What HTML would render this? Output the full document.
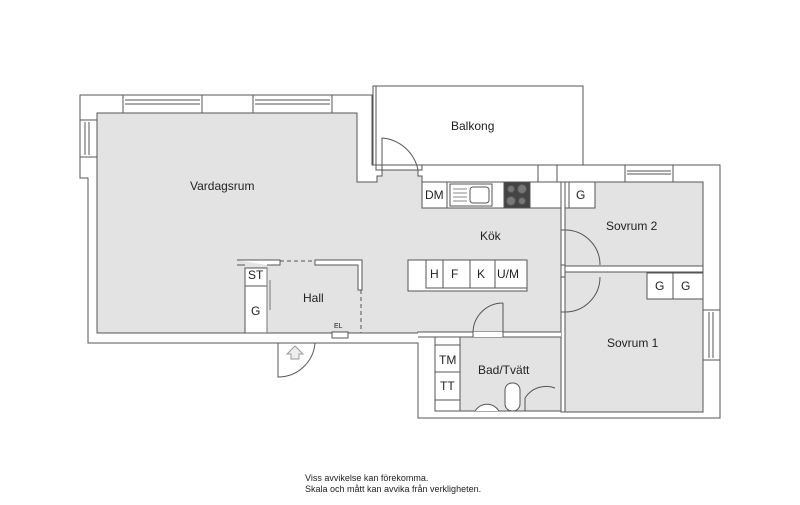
<!DOCTYPE html>
<html><head><meta charset="utf-8"><style>
html,body{margin:0;padding:0;background:#fff;}
svg{display:block;}
text{font-family:"Liberation Sans",sans-serif;fill:#222;}
</style></head><body>
<svg width="800" height="505" viewBox="0 0 800 505" xmlns="http://www.w3.org/2000/svg">
<g stroke="#555" stroke-width="1" fill="none">
<!-- outer outline -->
<path d="M80,95 H372 V165 H720 V418 H418 V343 H88 V178 H80 Z" fill="#fff"/>
<!-- balcony -->
<rect x="373" y="86" width="210" height="79" fill="#fff"/>
<path d="M376,86 V170 H382 M418,170 H422 V165"/>
<!-- rooms gray -->
<path d="M97,113 H357 V182 H377 V176 H382 V170 H418 V176 H422 V182 H561 V332 H418 V333 H97 Z" fill="#e3e3e3"/>
<rect x="565" y="182" width="138" height="84" fill="#e3e3e3"/>
<rect x="565" y="272" width="138" height="140" fill="#e3e3e3"/>
<rect x="460" y="337" width="101" height="74" fill="#e3e3e3"/>
<rect x="435" y="337" width="25" height="74" fill="#fff"/>
<!-- wall between kitchen and bedrooms -->
<rect x="561" y="182" width="4" height="48" fill="#fff"/>
<rect x="561" y="265" width="4" height="12" fill="#fff"/>
<rect x="565" y="266" width="138" height="6" fill="#fff"/>
<rect x="561" y="312" width="4" height="100" fill="#fff"/>
<path d="M565,230 A35,35 0 0 1 600,265 M600,277 A35,35 0 0 1 565,312"/>
<!-- kitchen bottom wall / bad door -->
<rect x="418" y="332" width="143" height="5" fill="#fff" stroke="none"/>
<path d="M418,332 H473 M503,332 H561 M418,337 H473 M503,337 H561 M473,332 V337 M503,303 V337"/>
<path d="M503,303 A30,30 0 0 0 473,333"/>
<!-- counter -->
<rect x="422" y="182" width="139" height="26" fill="#fff"/>
<line x1="447" y1="182" x2="447" y2="208"/>
<rect x="450" y="184" width="42" height="22" fill="#fff"/>
<rect x="470" y="187" width="19" height="16" rx="3"/>
<path d="M453,189 H467 M453,193 H467 M453,197 H467 M453,201 H467" stroke="#888"/>
<rect x="504" y="182" width="26" height="26" fill="#444"/>
<circle cx="511" cy="189" r="3.5" fill="#777"/><circle cx="522" cy="189" r="4.5" fill="#777"/>
<circle cx="511" cy="201" r="4.5" fill="#777"/><circle cx="522" cy="201" r="3.5" fill="#777"/>
<!-- G in sovrum2 -->
<rect x="565" y="182" width="30" height="26" fill="#fff"/>
<line x1="569" y1="182" x2="569" y2="208"/>
<!-- GG sovrum1 -->
<rect x="647" y="273" width="56" height="26" fill="#fff"/>
<line x1="673" y1="273" x2="673" y2="299"/>
<!-- island -->
<rect x="408" y="260" width="119" height="31" fill="#fff"/>
<path d="M426,260 V288 H527 M443,260 V288 M470,260 V288 M495,260 V288"/>
<!-- TM/TT -->
<path d="M435,345 H460 M435,372 H460 M435,400 H460"/>
<!-- windows -->
<rect x="123" y="95" width="79" height="18" fill="#fff"/>
<path d="M125,100 H200 M125,104 H200"/>
<rect x="253" y="95" width="79" height="18" fill="#fff"/>
<path d="M255,100 H330 M255,104 H330"/>
<rect x="80" y="120" width="17" height="37" fill="#fff"/>
<path d="M85,122 V155 M89,122 V155"/>
<rect x="538" y="165" width="19" height="17" fill="#fff"/>
<rect x="625" y="165" width="48" height="17" fill="#fff"/>
<path d="M627,171 H671 M627,174 H671"/>
<rect x="703" y="310" width="17" height="50" fill="#fff"/>
<path d="M709,312 V358 M713,312 V358"/>
<!-- balcony door -->
<path d="M382,170 V138 A40,40 0 0 1 418,170"/>
<!-- hall -->
<rect x="245" y="268" width="22" height="65" fill="#fff"/>
<line x1="245" y1="286" x2="267" y2="286"/>
<path d="M237,260 H280 V265 H267 M245,265 H237 Z" fill="#fff"/>
<path d="M315,260 H362 V290 H358 V265 H315 Z" fill="#fff"/>
<path d="M267,268 V333 M270,280 V310" stroke="#777"/>
<path d="M280,261 H315 M361,290 V333" stroke-dasharray="4,3"/>
<rect x="332" y="332" width="16" height="6" fill="#fff"/>
<path d="M278,343 V377 A37,37 0 0 0 315,343"/>
<path d="M295,346 L287,354 H291 V359 H299 V354 H303 Z" fill="#eee" stroke="#999"/>
<!-- bad fixtures -->
<path d="M475,411 A14,14 0 0 1 499,411" fill="#fff"/>
<rect x="505" y="383" width="15" height="28" rx="7" fill="#fff"/>
<path d="M525,411 V398 A25,25 0 0 1 555,388" />
</g>
<g font-size="12">
<text x="190" y="190">Vardagsrum</text>
<text x="451" y="130">Balkong</text>
<text x="480" y="240">Kök</text>
<text x="606" y="230">Sovrum 2</text>
<text x="607" y="347">Sovrum 1</text>
<text x="303" y="302">Hall</text>
<text x="478" y="374">Bad/Tvätt</text>
<text x="248" y="279">ST</text>
<text x="251" y="315">G</text>
<text x="425" y="199">DM</text>
<text x="576" y="199">G</text>
<text x="655" y="290">G</text>
<text x="681" y="290">G</text>
<text x="430" y="278">H</text>
<text x="451" y="278">F</text>
<text x="477" y="278">K</text>
<text x="497" y="278">U/M</text>
<text x="439" y="364">TM</text>
<text x="440" y="390">TT</text>
</g>
<text x="334" y="328" font-size="7">EL</text>
<text x="305" y="481" font-size="9">Viss avvikelse kan förekomma.</text>
<text x="305" y="492" font-size="9">Skala och mått kan avvika från verkligheten.</text>
</svg>
</body></html>
